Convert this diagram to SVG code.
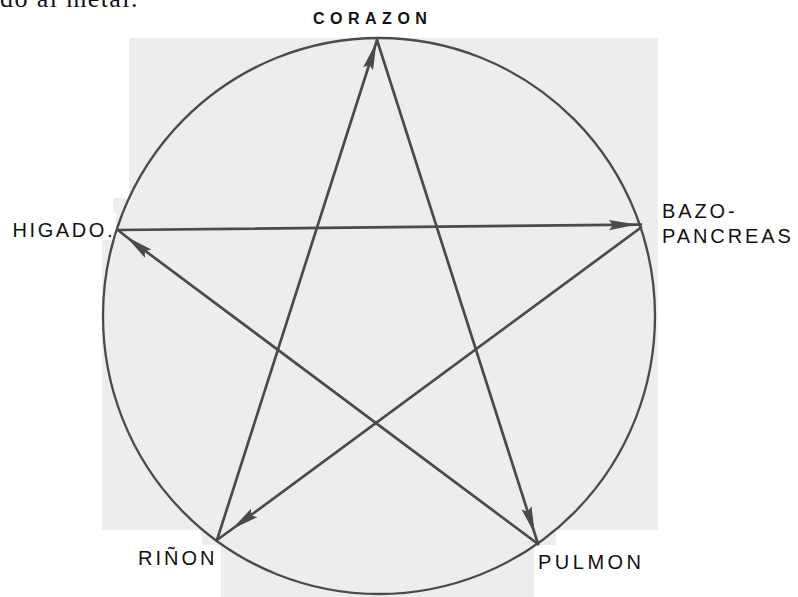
<svg xmlns="http://www.w3.org/2000/svg" width="798" height="597" viewBox="0 0 798 597">
  <style>
    .lbl { font-family: "Liberation Sans", Arial, sans-serif; font-size: 20px; fill: #111; letter-spacing: 3px; }
    .title { font-family: "Liberation Sans", Arial, sans-serif; font-size: 16px; font-weight: bold; fill: #111; letter-spacing: 5.5px; }
    .serif { font-family: "Liberation Serif", "Times New Roman", serif; font-size: 26px; fill: #111; letter-spacing: 1.4px; }
    .edge { stroke: #4a4a4a; stroke-width: 2.7; fill: none; stroke-linecap: round; marker-mid: url(#ah); }
    .ring { stroke: #4a4a4a; stroke-width: 2.3; fill: none; }
  </style>
  <defs>
    <marker id="ah" markerUnits="userSpaceOnUse" viewBox="-31 -7 33 14" markerWidth="33" markerHeight="14" refX="0" refY="0" orient="auto" overflow="visible">
      <path d="M0,0 L-28,-5.2 L-24,0 L-28,5.2 z" fill="#4a4a4a"/>
    </marker>
  </defs>

  <rect width="798" height="597" fill="#ffffff"/>

  <!-- scanned page background -->
  <polygon id="scan" fill="#ededed" points="129,38 658,38 658,530 556,530 556,545 534,545 534,597 221,597 221,545 202,545 202,530 102,530 102,240 116,240 116,213 113,213 113,198 129,198"/>

  <text class="serif" x="0" y="7">do al metal.</text>

  <g id="ring">
    <ellipse class="ring" cx="379" cy="316" rx="276" ry="278"/>
  </g>

  <g id="connectors">
    <!-- RIÑON -> CORAZON -->
    <path class="edge" d="M217,540 L376.4,42 L377,40"/>
    <!-- CORAZON -> PULMON -->
    <path class="edge" d="M377,40 L535,534.5 L538,544"/>
    <!-- PULMON -> HIGADO -->
    <path class="edge" d="M538,544 L126,236.5 L118,230"/>
    <!-- HIGADO -> BAZO-PANCREAS -->
    <path class="edge" d="M118,230 L637,224.6 L641,224.5"/>
    <!-- BAZO-PANCREAS -> RIÑON -->
    <path class="edge" d="M641,227.5 L231.5,529.5 L217,540"/>
  </g>

  <g id="node-corazon">
    <text class="title" x="313" y="24">CORAZON</text>
  </g>
  <g id="node-higado">
    <text class="lbl" x="12.5" y="237" style="letter-spacing:2.6px">HIGADO.</text>
  </g>
  <g id="node-bazo">
    <text class="lbl" x="662" y="218" style="letter-spacing:2.9px">BAZO-</text>
    <text class="lbl" x="662" y="243" style="letter-spacing:2.9px">PANCREAS</text>
  </g>
  <g id="node-rinon">
    <text class="lbl" x="138" y="565">RIÑON</text>
  </g>
  <g id="node-pulmon">
    <text class="lbl" x="538" y="569" style="letter-spacing:3.5px">PULMON</text>
  </g>
</svg>
